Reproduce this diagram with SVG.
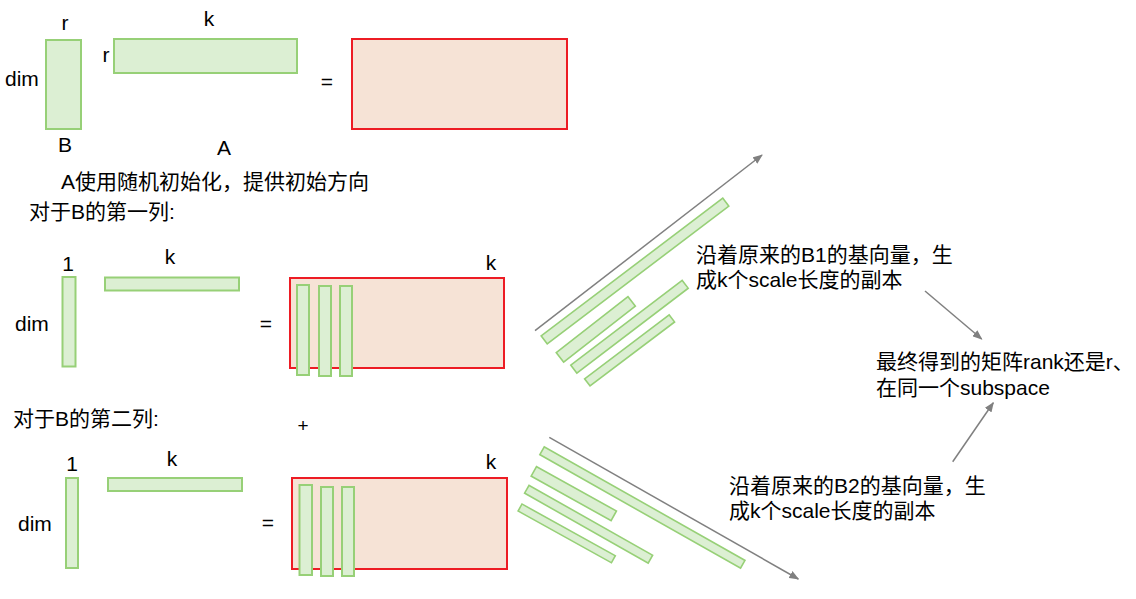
<svg xmlns="http://www.w3.org/2000/svg" width="1136" height="599" viewBox="0 0 1136 599">
<style>
.g{fill:#dcefd3;stroke:#97d077;stroke-width:2}
.gt{fill:#dcefd3;stroke:#97d077;stroke-width:1.6}
.r{fill:#f6e3d6;stroke:#ed1c24;stroke-width:2}
text{font-family:"Liberation Sans","Noto Sans CJK SC",sans-serif;font-size:21px;fill:#000}
.m{text-anchor:middle}
.ln{stroke:#808080;stroke-width:1.5;fill:none;marker-end:url(#ah)}
</style>
<defs>
<marker id="ah" markerWidth="10" markerHeight="8" refX="9" refY="4" orient="auto" markerUnits="userSpaceOnUse">
<path d="M0,0 L10,4 L0,8 Z" fill="#808080"/>
</marker>
</defs>
<rect width="1136" height="599" fill="#fff"/>

<g id="sec1">
<rect class="g" x="46" y="40" width="35" height="89"/>
<rect class="g" x="114" y="39" width="183" height="34"/>
<rect class="r" x="352" y="39" width="215" height="90"/>
<text class="m" x="65" y="30">r</text>
<text class="m" x="209" y="26">k</text>
<text class="m" x="106" y="62">r</text>
<text x="5" y="86">dim</text>
<text class="m" x="327" y="89">=</text>
<text class="m" x="65" y="152">B</text>
<text class="m" x="224" y="155">A</text>
<text x="61" y="189">A使用随机初始化，提供初始方向</text>
<text x="29" y="219">对于B的第一列:</text>
</g>

<g id="sec2">
<rect class="g" x="62.5" y="277" width="13" height="89.5"/>
<rect class="g" x="105" y="277.5" width="134" height="13"/>
<rect class="r" x="290" y="278" width="214" height="90"/>
<rect class="g" x="297" y="285" width="12" height="90"/>
<rect class="g" x="319" y="286" width="12" height="90"/>
<rect class="g" x="340" y="286" width="12" height="90"/>
<text class="m" x="68" y="271">1</text>
<text class="m" x="170" y="264">k</text>
<text x="15" y="331">dim</text>
<text class="m" x="266" y="331">=</text>
<text class="m" x="491" y="270">k</text>
<text x="13" y="426">对于B的第二列:</text>
<text class="m" x="303" y="432" style="font-size:19px">+</text>
</g>

<g id="sec3">
<rect class="g" x="66" y="478" width="12" height="90"/>
<rect class="g" x="108" y="478" width="134" height="13"/>
<rect class="r" x="292" y="478" width="215" height="91"/>
<rect class="g" x="299.5" y="485" width="12.5" height="90"/>
<rect class="g" x="321" y="487" width="12" height="89"/>
<rect class="g" x="342" y="487" width="12" height="89"/>
<text class="m" x="72" y="471">1</text>
<text class="m" x="172" y="466">k</text>
<text x="18" y="531">dim</text>
<text class="m" x="268" y="530">=</text>
<text class="m" x="491" y="469">k</text>
</g>

<g id="copies1">
<rect class="gt" x="-114" y="-5" width="228" height="10" transform="translate(635,271) rotate(-37.2)"/>
<rect class="gt" x="-45.5" y="-6" width="91" height="12" transform="translate(595.8,329.4) rotate(-38)"/>
<rect class="gt" x="-70" y="-5" width="140" height="10" transform="translate(629.5,326.7) rotate(-37.3)"/>
<rect class="gt" x="-53" y="-4.5" width="106" height="9" transform="translate(629.6,350.4) rotate(-37.1)"/>
</g>

<g id="copies2">
<rect class="gt" x="-115.3" y="-4.5" width="230.6" height="9" transform="translate(642.4,507.5) rotate(29.5)"/>
<rect class="gt" x="-45.75" y="-5.5" width="91.5" height="11" transform="translate(573.8,493.6) rotate(29.1)"/>
<rect class="gt" x="-71" y="-4.5" width="142" height="9" transform="translate(588.6,524.2) rotate(29.5)"/>
<rect class="gt" x="-53.35" y="-4" width="106.7" height="8" transform="translate(566.7,533.4) rotate(29)"/>
</g>

<g id="t1">
<text x="696" y="262">沿着原来的B1的基向量，生</text>
<text x="696" y="287">成k个scale长度的副本</text>
</g>
<g id="t2">
<text x="876" y="369">最终得到的矩阵rank还是r、</text>
<text x="876" y="395">在同一个subspace</text>
</g>
<g id="t3">
<text x="729" y="493">沿着原来的B2的基向量，生</text>
<text x="729" y="518">成k个scale长度的副本</text>
</g>

<g id="connectors">
<line class="ln" x1="535" y1="330.7" x2="762" y2="155"/>
<line class="ln" x1="549.3" y1="437.3" x2="798.3" y2="579"/>
<line class="ln" x1="925" y1="291" x2="981.7" y2="339"/>
<line class="ln" x1="952.7" y1="461.7" x2="993.3" y2="402.7"/>
</g>
</svg>
